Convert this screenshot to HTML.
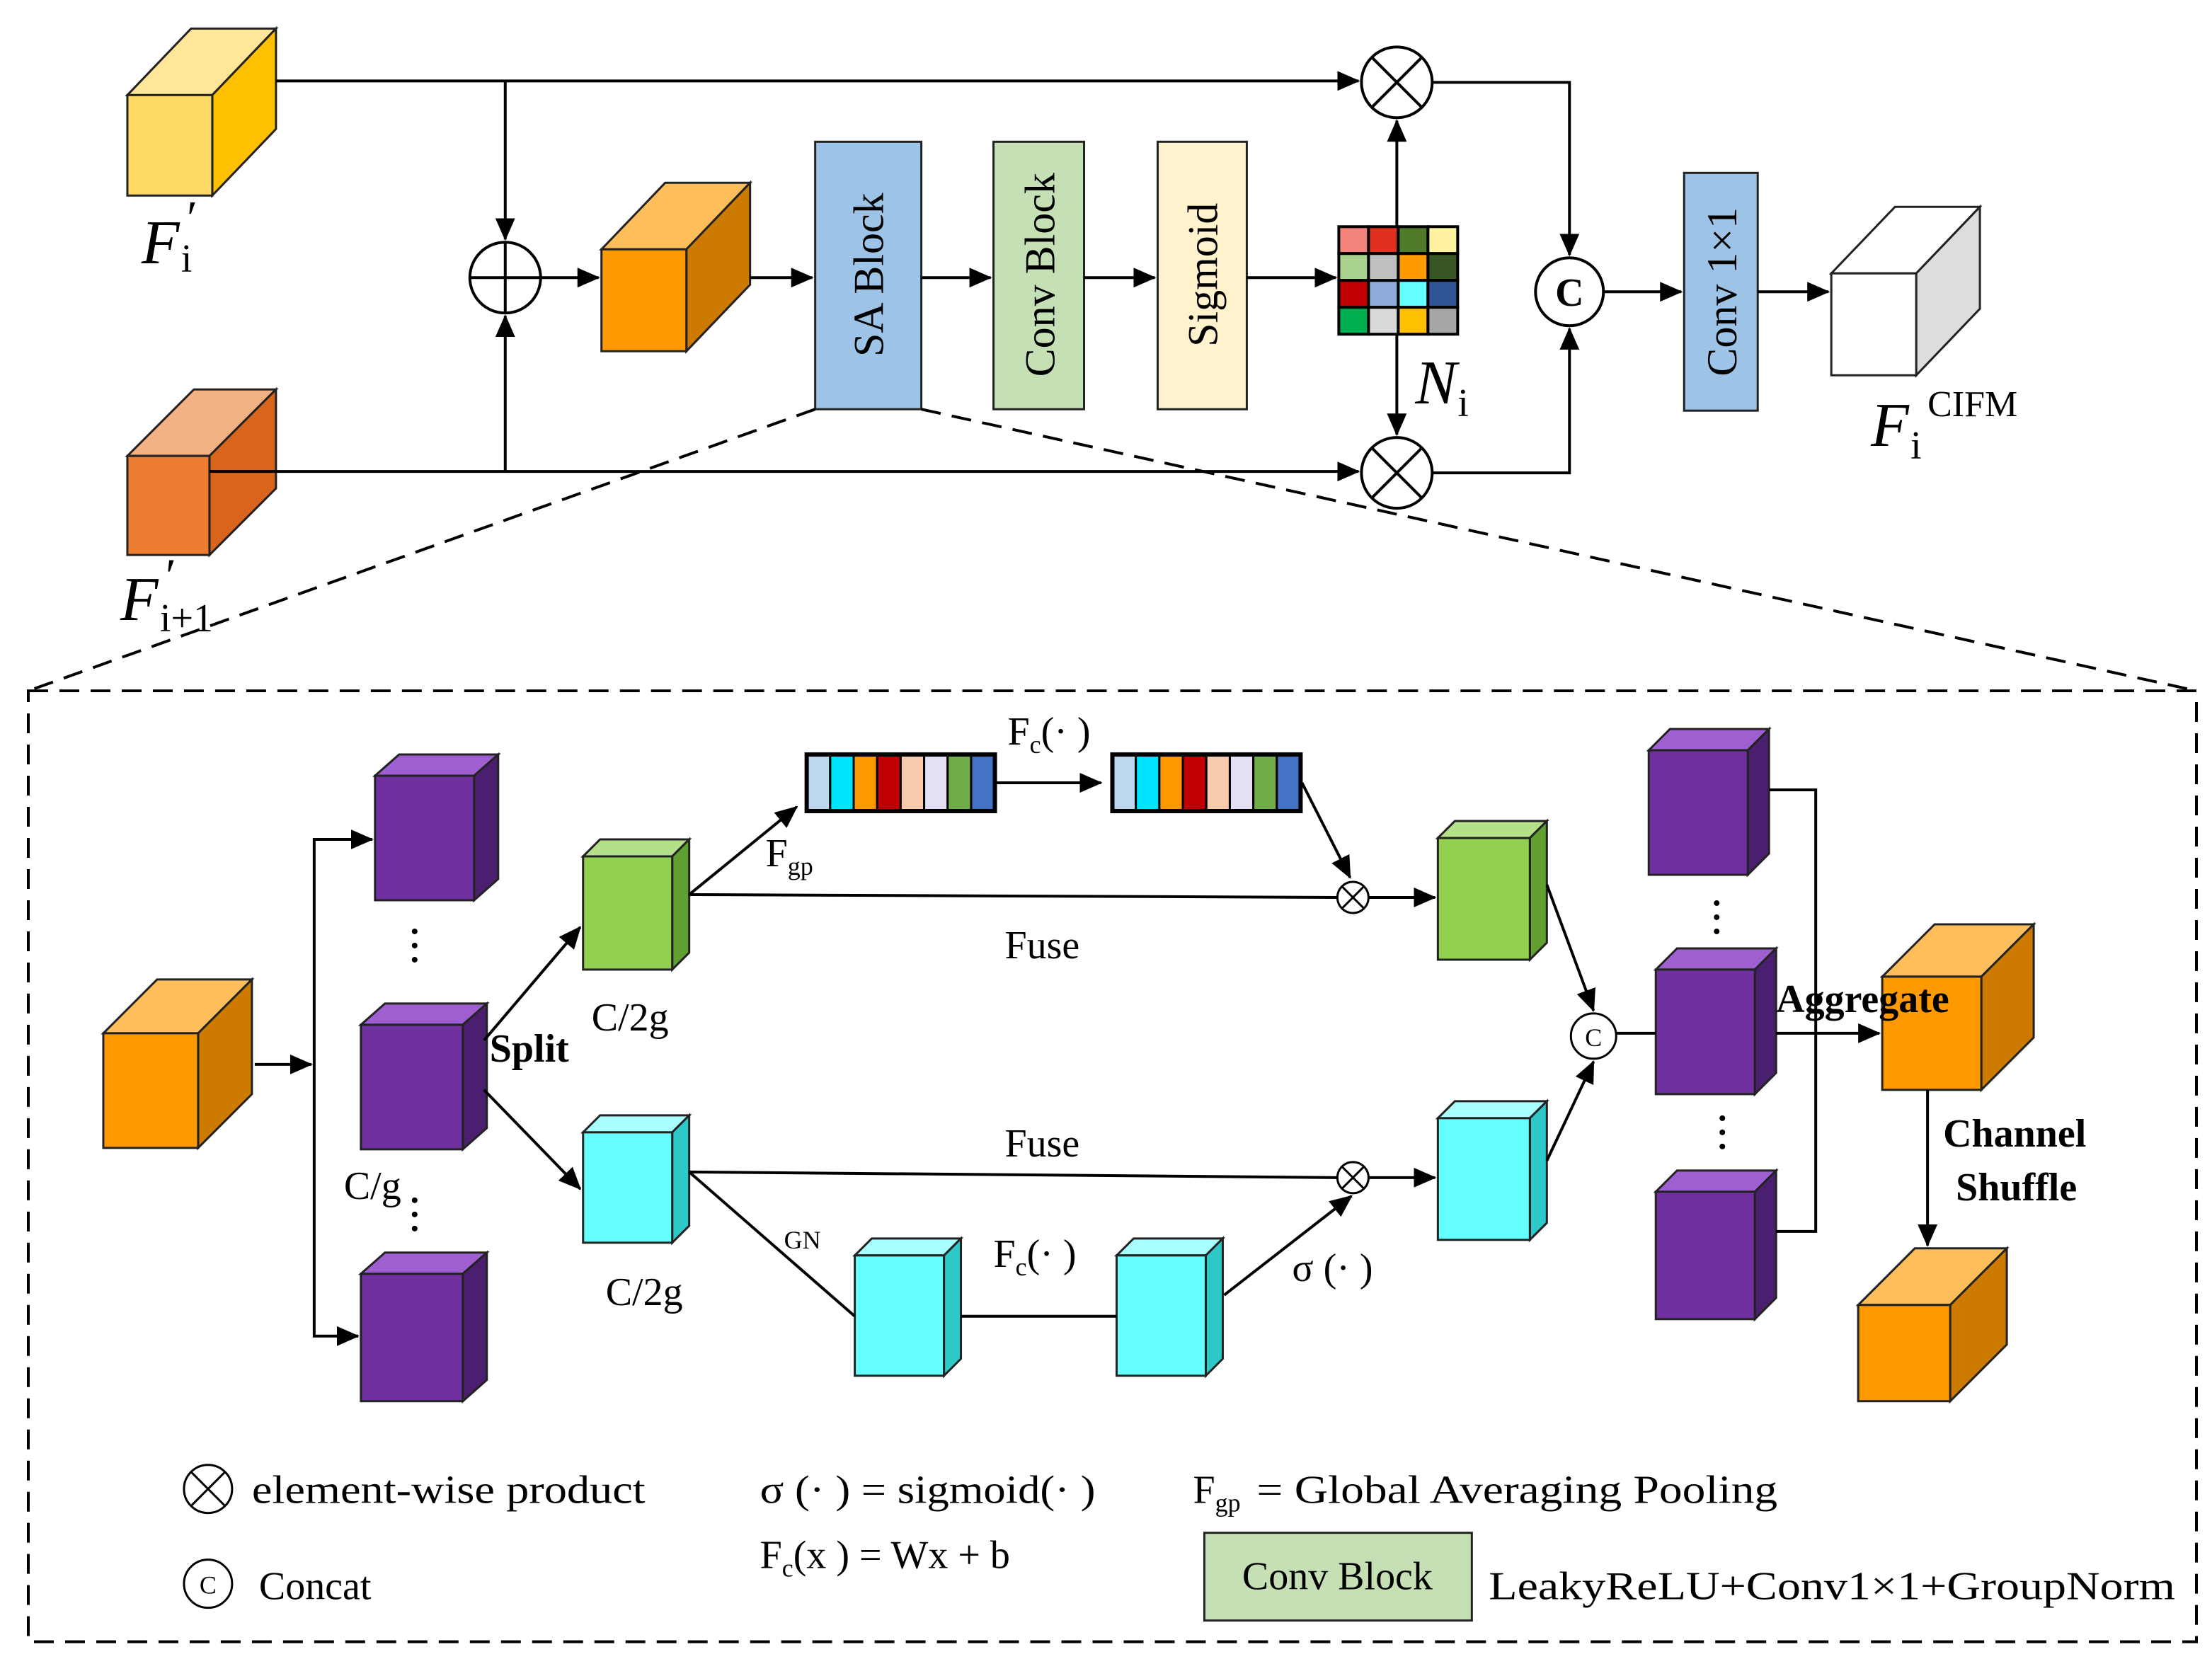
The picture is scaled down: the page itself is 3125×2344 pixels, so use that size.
<!DOCTYPE html>
<html><head><meta charset="utf-8"><style>
html,body{margin:0;padding:0;background:#fff}
svg{display:block}
text{font-family:"Liberation Serif","DejaVu Serif",serif;fill:#000}
</style></head><body>
<svg width="3125" height="2344" viewBox="0 0 1563 1172" xmlns="http://www.w3.org/2000/svg">
<defs>
<marker id="b" markerWidth="16" markerHeight="14" refX="15" refY="7" orient="auto" markerUnits="userSpaceOnUse"><path d="M0,0 L16,7 L0,14 z" fill="#000"/></marker>
</defs>
<g stroke="#222" stroke-width="1.5">
<polygon points="90,67 135,20 195,20 150,67" fill="#FFE699"/><polygon points="150,67 195,20 195,91 150,138" fill="#FFC000"/><rect x="90" y="67" width="60" height="71" fill="#FFD966"/>
<polygon points="90,322 137,275 195,275 148,322" fill="#F4B183"/><polygon points="148,322 195,275 195,345 148,392" fill="#D9641C"/><rect x="90" y="322" width="58" height="70" fill="#ED7D31"/>
<polygon points="425,176 470,129 530,129 485,176" fill="#FFBE5C"/><polygon points="485,176 530,129 530,201 485,248" fill="#CC7A00"/><rect x="425" y="176" width="60" height="72" fill="#FF9900"/>
<polygon points="1294,193 1339,146 1399,146 1354,193" fill="#fff"/><polygon points="1354,193 1399,146 1399,218 1354,265" fill="#ddd"/><rect x="1294" y="193" width="60" height="72" fill="#fff"/>
<rect x="576" y="100" width="75" height="189" fill="#9DC3E6"/>
<rect x="702" y="100" width="64" height="189" fill="#C5E0B4"/>
<rect x="818" y="100" width="63" height="189" fill="#FFF2CC"/>
<rect x="1190" y="122" width="52" height="168" fill="#9DC3E6"/>
</g>
<g font-size="30">
<text transform="translate(624,194) rotate(-90)" text-anchor="middle">SA Block</text>
<text transform="translate(745,194) rotate(-90)" text-anchor="middle">Conv Block</text>
<text transform="translate(860,194) rotate(-90)" text-anchor="middle">Sigmoid</text>
<text transform="translate(1227,206) rotate(-90)" text-anchor="middle">Conv 1×1</text>
</g>
<g stroke="#000" stroke-width="2">
<rect x="946" y="160" width="21" height="19" fill="#F4837D"/><rect x="967" y="160" width="21" height="19" fill="#E03020"/><rect x="988" y="160" width="21" height="19" fill="#4F7A28"/><rect x="1009" y="160" width="21" height="19" fill="#FFF2A0"/>
<rect x="946" y="179" width="21" height="19" fill="#A9D18E"/><rect x="967" y="179" width="21" height="19" fill="#BFBFBF"/><rect x="988" y="179" width="21" height="19" fill="#FF9900"/><rect x="1009" y="179" width="21" height="19" fill="#375623"/>
<rect x="946" y="198" width="21" height="19" fill="#C00000"/><rect x="967" y="198" width="21" height="19" fill="#8FAADC"/><rect x="988" y="198" width="21" height="19" fill="#66FFFF"/><rect x="1009" y="198" width="21" height="19" fill="#2F5597"/>
<rect x="946" y="217" width="21" height="19" fill="#00B050"/><rect x="967" y="217" width="21" height="19" fill="#D9D9D9"/><rect x="988" y="217" width="21" height="19" fill="#FFC000"/><rect x="1009" y="217" width="21" height="19" fill="#A6A6A6"/>
</g>
<g stroke="#000" stroke-width="2" fill="none">
<polyline points="195,57 960,57" marker-end="url(#b)"/>
<polyline points="357,57 357,169" marker-end="url(#b)"/>
<polyline points="148,333 960,333" marker-end="url(#b)"/>
<polyline points="357,333 357,223" marker-end="url(#b)"/>
<polyline points="382,196 423,196" marker-end="url(#b)"/>
<polyline points="530,196 574,196" marker-end="url(#b)"/>
<polyline points="651,196 700,196" marker-end="url(#b)"/>
<polyline points="766,196 816,196" marker-end="url(#b)"/>
<polyline points="881,196 944,196" marker-end="url(#b)"/>
<polyline points="987,160 987,85" marker-end="url(#b)"/>
<polyline points="987,236 987,307" marker-end="url(#b)"/>
<polyline points="1012,58 1109,58 1109,180" marker-end="url(#b)"/>
<polyline points="1012,334 1109,334 1109,232" marker-end="url(#b)"/>
<polyline points="1133,206 1188,206" marker-end="url(#b)"/>
<polyline points="1242,206 1292,206" marker-end="url(#b)"/>
</g>
<g stroke="#000" stroke-width="2" fill="#fff">
<circle cx="987" cy="58" r="25"/><path d="M969,40 L1005,76 M1005,40 L969,76" fill="none"/>
<circle cx="987" cy="334" r="25"/><path d="M969,316 L1005,352 M1005,316 L969,352" fill="none"/>
<circle cx="357" cy="196" r="25"/><path d="M332,196 L382,196 M357,171 L357,221" fill="none"/>
<circle cx="1109" cy="206" r="24"/>
</g>
<text x="1109" y="216" font-size="28" font-weight="bold" text-anchor="middle">C</text>
<g font-style="italic" font-size="44">
<text x="100" y="186">F</text><text x="128" y="192" font-size="28" font-style="normal">i</text><text x="130" y="165" font-size="34">′</text>
<text x="85" y="438">F</text><text x="113" y="446" font-size="28" font-style="normal">i+1</text><text x="115" y="418" font-size="34">′</text>
<text x="1000" y="285">N</text><text x="1030" y="294" font-size="28" font-style="normal">i</text>
<text x="1322" y="315">F</text><text x="1350" y="324" font-size="28" font-style="normal">i</text><text x="1362" y="294" font-size="26" font-style="normal">CIFM</text>
</g>
<g stroke="#000" stroke-width="2" fill="none" stroke-dasharray="14,8">
<line x1="576" y1="289" x2="20" y2="488"/>
<line x1="651" y1="289" x2="1552" y2="488"/>
<rect x="20" y="488" width="1532" height="672"/>
</g>
<g stroke="#222" stroke-width="1.5">
<polygon points="73,730 111,692 178,692 140,730" fill="#FFBE5C"/><polygon points="140,730 178,692 178,773 140,811" fill="#CC7A00"/><rect x="73" y="730" width="67" height="81" fill="#FF9900"/>
<g fill="#7030A0">
<polygon points="265,548 282,533 352,533 335,548" fill="#9E5FD0"/><polygon points="335,548 352,533 352,621 335,636" fill="#4B1F70"/><rect x="265" y="548" width="70" height="88"/>
<polygon points="255,724 272,709 344,709 327,724" fill="#9E5FD0"/><polygon points="327,724 344,709 344,797 327,812" fill="#4B1F70"/><rect x="255" y="724" width="72" height="88"/>
<polygon points="255,900 272,885 344,885 327,900" fill="#9E5FD0"/><polygon points="327,900 344,885 344,975 327,990" fill="#4B1F70"/><rect x="255" y="900" width="72" height="90"/>
<polygon points="1165,530 1180,515 1250,515 1235,530" fill="#9E5FD0"/><polygon points="1235,530 1250,515 1250,603 1235,618" fill="#4B1F70"/><rect x="1165" y="530" width="70" height="88"/>
<polygon points="1170,685 1185,670 1255,670 1240,685" fill="#9E5FD0"/><polygon points="1240,685 1255,670 1255,758 1240,773" fill="#4B1F70"/><rect x="1170" y="685" width="70" height="88"/>
<polygon points="1170,842 1185,827 1255,827 1240,842" fill="#9E5FD0"/><polygon points="1240,842 1255,827 1255,917 1240,932" fill="#4B1F70"/><rect x="1170" y="842" width="70" height="90"/>
</g>
<polygon points="412,605 424,593 487,593 475,605" fill="#B4E08A"/><polygon points="475,605 487,593 487,673 475,685" fill="#5FA030"/><rect x="412" y="605" width="63" height="80" fill="#92D050"/>
<polygon points="1016,592 1028,580 1093,580 1081,592" fill="#B4E08A"/><polygon points="1081,592 1093,580 1093,666 1081,678" fill="#5FA030"/><rect x="1016" y="592" width="65" height="86" fill="#92D050"/>
<g fill="#66FFFF">
<polygon points="412,800 424,788 487,788 475,800" fill="#A8FFFF"/><polygon points="475,800 487,788 487,866 475,878" fill="#2FC8C8"/><rect x="412" y="800" width="63" height="78"/>
<polygon points="1016,790 1028,778 1093,778 1081,790" fill="#A8FFFF"/><polygon points="1081,790 1093,778 1093,864 1081,876" fill="#2FC8C8"/><rect x="1016" y="790" width="65" height="86"/>
<polygon points="604,887 616,875 679,875 667,887" fill="#A8FFFF"/><polygon points="667,887 679,875 679,960 667,972" fill="#2FC8C8"/><rect x="604" y="887" width="63" height="85"/>
<polygon points="789,887 801,875 864,875 852,887" fill="#A8FFFF"/><polygon points="852,887 864,875 864,960 852,972" fill="#2FC8C8"/><rect x="789" y="887" width="63" height="85"/>
</g>
<polygon points="1330,690 1367,653 1437,653 1400,690" fill="#FFBE5C"/><polygon points="1400,690 1437,653 1437,733 1400,770" fill="#CC7A00"/><rect x="1330" y="690" width="70" height="80" fill="#FF9900"/>
<polygon points="1313,922 1353,882 1418,882 1378,922" fill="#FFBE5C"/><polygon points="1378,922 1418,882 1418,950 1378,990" fill="#CC7A00"/><rect x="1313" y="922" width="65" height="68" fill="#FF9900"/>
</g>
<g stroke="#000" stroke-width="1.5">
<g transform="translate(570,533)">
<rect x="0" width="16.6" height="40" fill="#BDD7EE"/><rect x="16.6" width="16.6" height="40" fill="#00E5FF"/><rect x="33.2" width="16.6" height="40" fill="#FF9900"/><rect x="49.8" width="16.6" height="40" fill="#C00000"/><rect x="66.4" width="16.6" height="40" fill="#F8CBAD"/><rect x="83" width="16.6" height="40" fill="#E4DFF5"/><rect x="99.6" width="16.6" height="40" fill="#70AD47"/><rect x="116.2" width="16.8" height="40" fill="#4472C4"/><rect x="0" width="133" height="40" fill="none" stroke-width="3"/></g>
<g transform="translate(786,533)">
<rect x="0" width="16.6" height="40" fill="#BDD7EE"/><rect x="16.6" width="16.6" height="40" fill="#00E5FF"/><rect x="33.2" width="16.6" height="40" fill="#FF9900"/><rect x="49.8" width="16.6" height="40" fill="#C00000"/><rect x="66.4" width="16.6" height="40" fill="#F8CBAD"/><rect x="83" width="16.6" height="40" fill="#E4DFF5"/><rect x="99.6" width="16.6" height="40" fill="#70AD47"/><rect x="116.2" width="16.8" height="40" fill="#4472C4"/><rect x="0" width="133" height="40" fill="none" stroke-width="3"/></g>
</g>
<g stroke="#000" stroke-width="2" fill="none">
<polyline points="180,752 220,752" marker-end="url(#b)"/>
<polyline points="263,593 222,593 222,944 253,944" />
<polyline points="240,593 263,593" marker-end="url(#b)"/>
<polyline points="240,944 253,944" marker-end="url(#b)"/>
<polyline points="342,735 410,655" marker-end="url(#b)"/>
<polyline points="342,770 410,840" marker-end="url(#b)"/>
<polyline points="487,632 563,570" marker-end="url(#b)"/>
<polyline points="703,553 778,553" marker-end="url(#b)"/>
<polyline points="920,553 954,620" marker-end="url(#b)"/>
<polyline points="487,632 945,634"/>
<polyline points="967,634 1014,634" marker-end="url(#b)"/>
<polyline points="487,828 945,832"/>
<polyline points="967,832 1014,832" marker-end="url(#b)"/>
<polyline points="487,828 604,930"/>
<polyline points="679,930 789,930"/>
<polyline points="865,915 955,845" marker-end="url(#b)"/>
<polyline points="1093,625 1126,714" marker-end="url(#b)"/>
<polyline points="1093,820 1126,750" marker-end="url(#b)"/>
<polyline points="1142,730 1170,730"/>
<polyline points="1250,558 1283,558 1283,870 1255,870"/>
<polyline points="1255,730 1283,730"/>
<polyline points="1283,730 1328,730" marker-end="url(#b)"/>
<polyline points="1362,770 1362,880" marker-end="url(#b)"/>
</g>
<g stroke="#000" stroke-width="1.5" fill="#fff">
<circle cx="956" cy="634" r="11"/><path d="M948,626 L964,642 M964,626 L948,642"/>
<circle cx="956" cy="832" r="11"/><path d="M948,824 L964,840 M964,824 L948,840"/>
<circle cx="1126" cy="732" r="16"/>
<circle cx="147" cy="1052" r="17"/><path d="M135,1040 L159,1064 M159,1040 L135,1064"/>
<circle cx="147" cy="1119" r="17"/>
</g>
<text x="1126" y="739" font-size="18" text-anchor="middle">C</text>
<text x="147" y="1126" font-size="18" text-anchor="middle">C</text>
<g fill="#000">
<circle cx="293" cy="658" r="2"/><circle cx="293" cy="668" r="2"/><circle cx="293" cy="678" r="2"/>
<circle cx="293" cy="848" r="2"/><circle cx="293" cy="858" r="2"/><circle cx="293" cy="868" r="2"/>
<circle cx="1213" cy="638" r="2"/><circle cx="1213" cy="648" r="2"/><circle cx="1213" cy="658" r="2"/>
<circle cx="1217" cy="790" r="2"/><circle cx="1217" cy="800" r="2"/><circle cx="1217" cy="810" r="2"/>
</g>
<g font-size="28">
<text x="712" y="526">F<tspan font-size="18" dy="6">c</tspan><tspan dy="-6">(· )</tspan></text>
<text x="541" y="612">F<tspan font-size="18" dy="6">gp</tspan></text>
<text x="710" y="677">Fuse</text>
<text x="710" y="817">Fuse</text>
<text x="346" y="750" font-weight="bold">Split</text>
<text x="418" y="728">C/2g</text>
<text x="428" y="922">C/2g</text>
<text x="243" y="847">C/g</text>
<text x="554" y="882" font-size="18">GN</text>
<text x="702" y="895">F<tspan font-size="18" dy="6">c</tspan><tspan dy="-6">(· )</tspan></text>
<text x="913" y="905">σ (· )</text>
<text x="1255" y="715" font-weight="bold">Aggregate</text>
<text x="1373" y="810" font-weight="bold">Channel</text>
<text x="1382" y="848" font-weight="bold">Shuffle</text>
<text x="178" y="1062" textLength="278" lengthAdjust="spacingAndGlyphs">element-wise product</text>
<text x="183" y="1130">Concat</text>
<text x="537" y="1062" textLength="237" lengthAdjust="spacingAndGlyphs">σ (· ) = sigmoid(· )</text>
<text x="537" y="1108">F<tspan font-size="18" dy="6">c</tspan><tspan dy="-6">(x ) = Wx + b</tspan></text>
<text x="843" y="1062">F<tspan font-size="18" dy="6">gp</tspan></text>
<text x="888" y="1062" textLength="368" lengthAdjust="spacingAndGlyphs">= Global Averaging Pooling</text>
<text x="1052" y="1130" textLength="485" lengthAdjust="spacingAndGlyphs">LeakyReLU+Conv1×1+GroupNorm</text>
</g>
<rect x="851" y="1083" width="189" height="62" fill="#C5E0B4" stroke="#222" stroke-width="1.5"/>
<text x="945" y="1123" font-size="28" text-anchor="middle">Conv Block</text>
</svg>
</body></html>
